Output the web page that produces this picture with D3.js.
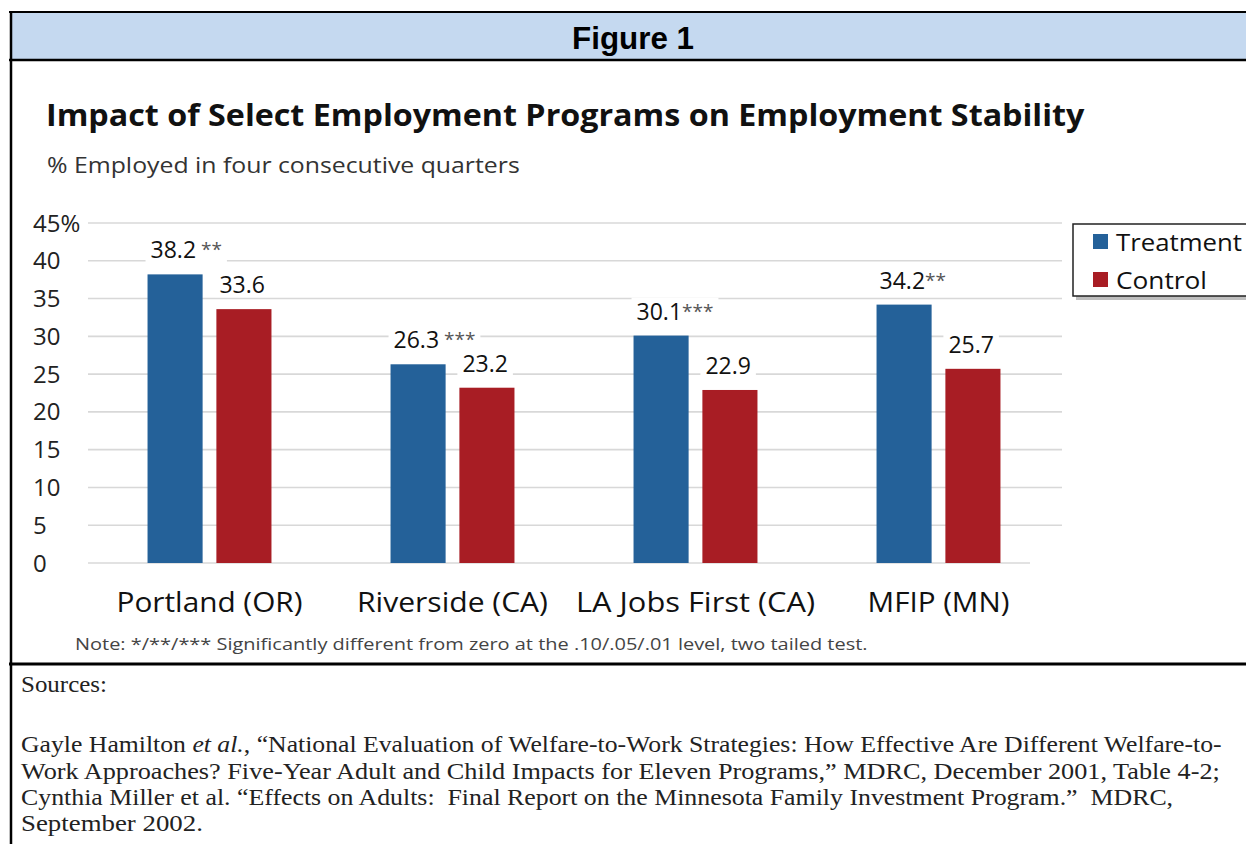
<!DOCTYPE html>
<html><head><meta charset="utf-8">
<script src="https://cdn.jsdelivr.net/npm/d3@7"></script>
<style>html,body{margin:0;padding:0;background:#fff;overflow:hidden}</style>
</head><body>
<svg id="c" width="1246" height="844"></svg>
<script>
const categories = ["Portland (OR)", "Riverside (CA)", "LA Jobs First (CA)", "MFIP (MN)"];
const seriesNames = ["Treatment", "Control"];
const treatment = [38.2, 26.3, 30.1, 34.2];
const control = [33.6, 23.2, 22.9, 25.7];
const treatmentStars = [" **", " ***", "***", "**"];
const controlStars = ["", "", "", ""];
const yTicks = [0, 5, 10, 15, 20, 25, 30, 35, 40, 45];
const yTickLabels = ["0", "5", "10", "15", "20", "25", "30", "35", "40", "45%"];
const colors = ["#246199", "#a81d24"];

const sans = "'Open Sans', 'Noto Sans', sans-serif";
const serif = "'Liberation Serif', 'DejaVu Serif', serif";
const svg = d3.select("#c");

// place a text at (x,y) with a given font size, then stretch horizontally to a target width
function placeText(parent, x, y, anchor, w, build) {
  const g = parent.append("g").attr("transform", `translate(${x},${y})`);
  const t = g.append("text").attr("x", 0).attr("y", 0).attr("text-anchor", anchor);
  build(t);
  const cur = t.node().getComputedTextLength();
  const sx = w / cur;
  g.attr("transform", `translate(${x},${y}) scale(${sx.toFixed(4)},1)`);
  return t;
}

// frame
svg.append("rect").attr("x", 10).attr("y", 12).attr("width", 1240).attr("height", 48).attr("fill", "#c5d9f0");
svg.append("line").attr("x1", 9).attr("x2", 1246).attr("y1", 12).attr("y2", 12).attr("stroke", "#000").attr("stroke-width", 2);
svg.append("line").attr("x1", 9).attr("x2", 1246).attr("y1", 60).attr("y2", 60).attr("stroke", "#000").attr("stroke-width", 2.5);
svg.append("line").attr("x1", 11).attr("x2", 11).attr("y1", 11).attr("y2", 844).attr("stroke", "#000").attr("stroke-width", 2.5);
svg.append("line").attr("x1", 9).attr("x2", 1246).attr("y1", 664).attr("y2", 664).attr("stroke", "#000").attr("stroke-width", 3);

placeText(svg, 633, 49, "middle", 122, t => t.attr("font-family", "'Liberation Sans', sans-serif")
  .attr("font-weight", "bold").attr("font-size", 32).attr("fill", "#000").text("Figure 1"));

placeText(svg, 46, 126, "start", 1039, t => t.attr("font-family", sans).attr("font-weight", "bold")
  .attr("font-size", 30).attr("fill", "#111").text("Impact of Select Employment Programs on Employment Stability"));

placeText(svg, 47, 173, "start", 473, t => t.attr("font-family", sans)
  .attr("font-size", 22).attr("fill", "#333").text("% Employed in four consecutive quarters"));

// scales
const y = d3.scaleLinear().domain([0, 45]).range([563, 223]);
const x0 = d3.scaleBand().domain(categories).range([88, 1060]).paddingInner(0.49).paddingOuter(0.245);
const x1 = d3.scaleBand().domain(seriesNames).range([0, x0.bandwidth()]).paddingInner(0.2);

// gridlines
svg.append("g").selectAll("line").data(yTicks).join("line")
  .attr("x1", 88).attr("x2", d => d === 0 ? 1030 : 1062)
  .attr("y1", d => y(d)).attr("y2", d => y(d))
  .attr("stroke", "#d8d8d8").attr("stroke-width", 1.6);

// y axis labels
svg.append("g").selectAll("text").data(yTicks).join("text")
  .attr("x", 33).attr("y", d => y(d) + 8.5)
  .attr("font-family", sans).attr("font-size", 24).attr("fill", "#222")
  .text((d, i) => yTickLabels[i]);

const rows = categories.map((c, i) => ({
  cat: c,
  vals: [
    { s: seriesNames[0], v: treatment[i], stars: treatmentStars[i] },
    { s: seriesNames[1], v: control[i], stars: controlStars[i] }
  ]
}));

const groups = svg.append("g").selectAll("g").data(rows).join("g")
  .attr("transform", d => `translate(${x0(d.cat)},0)`);

groups.selectAll("rect").data(d => d.vals).join("rect")
  .attr("x", d => x1(d.s)).attr("width", x1.bandwidth())
  .attr("y", d => y(d.v)).attr("height", d => y(0) - y(d.v))
  .attr("fill", (d, i) => colors[i]);

// value labels with white backing
groups.each(function(row) {
  const g = d3.select(this);
  row.vals.forEach((d) => {
    const lg = g.append("g");
    const t = lg.append("text").attr("x", x1(d.s) + 3).attr("y", y(d.v) - 16)
      .attr("font-family", sans).attr("font-size", 23).attr("fill", "#111")
      .attr("xml:space", "preserve").style("white-space", "pre");
    t.append("tspan").text(d.v.toFixed(1));
    if (d.stars) t.append("tspan").attr("font-size", 19).attr("fill", "#555").attr("dy", -2).text(d.stars);
    const bb = t.node().getBBox();
    lg.insert("rect", "text").attr("x", bb.x - 5).attr("y", bb.y + 3).attr("width", bb.width + 10)
      .attr("height", bb.height - 6).attr("fill", "#fff");
  });
});

// category labels
const catW = [186, 191, 239, 142];
categories.forEach((c, i) => {
  placeText(svg, x0(c) + x0.bandwidth() / 2, 612, "middle", catW[i], t => t.attr("font-family", sans)
    .attr("font-size", 28).attr("fill", "#111").text(c));
});

// legend
svg.append("rect").attr("x", 1076).attr("y", 228).attr("width", 200).attr("height", 72).attr("fill", "#888").attr("opacity", 0.55);
svg.append("rect").attr("x", 1073).attr("y", 224).attr("width", 200).attr("height", 72)
  .attr("fill", "#fff").attr("stroke", "#222").attr("stroke-width", 1.5);
const legW = [126, 91];
seriesNames.forEach((s, i) => {
  const cy = 242 + i * 38;
  svg.append("rect").attr("x", 1093).attr("y", cy - 8).attr("width", 15).attr("height", 15).attr("fill", colors[i]);
  placeText(svg, 1116, cy + 9, "start", legW[i], t => t.attr("font-family", sans)
    .attr("font-size", 23).attr("fill", "#111").text(s));
});

// note
placeText(svg, 75, 650, "start", 793, t => t.attr("font-family", sans).attr("font-size", 17).attr("fill", "#444")
  .text("Note: */**/*** Significantly different from zero at the .10/.05/.01 level, two tailed test."));

// sources
placeText(svg, 21, 692, "start", 86, t => t.attr("font-family", serif).attr("font-size", 22.5).attr("fill", "#222").text("Sources:"));
const srcLines = [
  "Work Approaches? Five-Year Adult and Child Impacts for Eleven Programs,\u201d MDRC, December 2001, Table 4-2;",
  "Cynthia Miller et al. \u201cEffects on Adults:  Final Report on the Minnesota Family Investment Program.\u201d  MDRC,",
  "September 2002."
];
const srcW = [1199, 1153, 182];
placeText(svg, 21, 752, "start", 1201, t => {
  t.attr("font-family", serif).attr("font-size", 22.5).attr("fill", "#222");
  t.append("tspan").text("Gayle Hamilton ");
  t.append("tspan").attr("font-style", "italic").text("et al.");
  t.append("tspan").text(", \u201cNational Evaluation of Welfare-to-Work Strategies: How Effective Are Different Welfare-to-");
});
srcLines.forEach((l, i) => {
  placeText(svg, 21, 778.5 + i * 26.3, "start", srcW[i], t => t.attr("font-family", serif).attr("font-size", 22.5)
    .attr("fill", "#222").attr("xml:space", "preserve").style("white-space", "pre").text(l));
});
</script>
</body></html>
